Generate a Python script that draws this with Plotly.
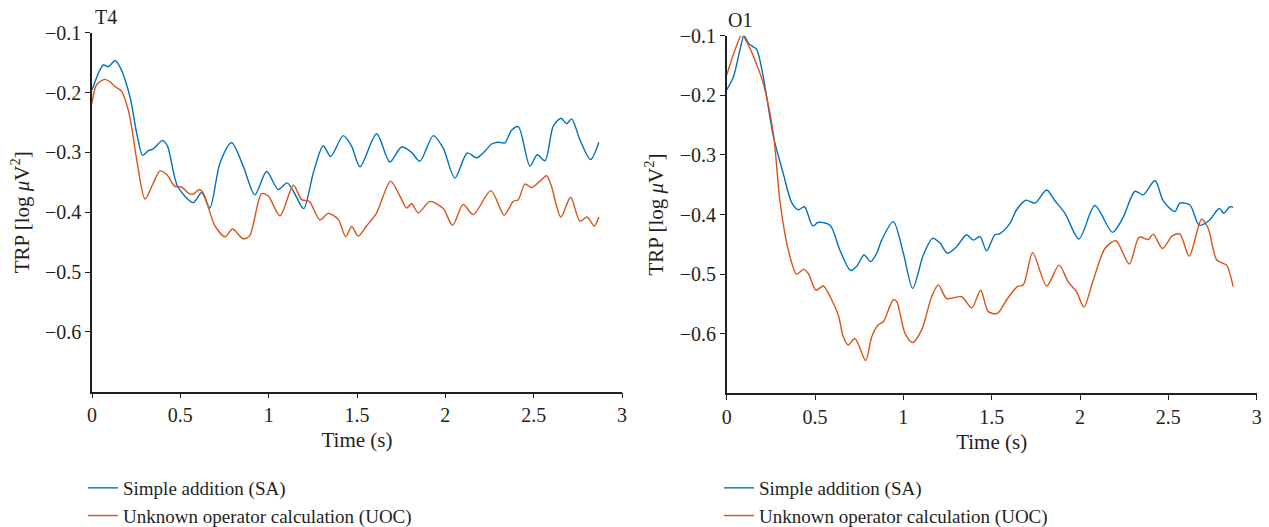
import plotly.graph_objects as go

# ---------------- data ----------------
t4_sa_t = [0, 0.064, 0.092, 0.130, 0.158, 0.215, 0.253, 0.287, 0.319, 0.347, 0.400, 0.428, 0.485, 0.573,
           0.621, 0.667, 0.724, 0.790, 0.856, 0.922, 0.988, 1.054, 1.105, 1.149, 1.198, 1.253, 1.309, 1.351,
           1.422, 1.470, 1.517, 1.611, 1.686, 1.752, 1.809, 1.856, 1.932, 1.988, 2.054, 2.124, 2.177, 2.224,
           2.262, 2.299, 2.337, 2.375, 2.413, 2.479, 2.520, 2.564, 2.611, 2.655, 2.687, 2.715, 2.762, 2.822, 2.869]
t4_sa_v = [-0.196, -0.154, -0.157, -0.147, -0.157, -0.207, -0.268, -0.305, -0.297, -0.294, -0.280, -0.290,
           -0.357, -0.384, -0.367, -0.393, -0.318, -0.284, -0.323, -0.371, -0.332, -0.362, -0.351, -0.370,
           -0.394, -0.334, -0.289, -0.307, -0.272, -0.290, -0.324, -0.269, -0.316, -0.291, -0.300, -0.315,
           -0.272, -0.293, -0.343, -0.301, -0.309, -0.298, -0.286, -0.283, -0.284, -0.263, -0.257, -0.323,
           -0.304, -0.314, -0.256, -0.243, -0.252, -0.244, -0.279, -0.312, -0.283]

t4_uoc_t = [0, 0.026, 0.073, 0.102, 0.130, 0.168, 0.205, 0.224, 0.253, 0.300, 0.343, 0.385, 0.423, 0.470,
            0.508, 0.545, 0.573, 0.607, 0.630, 0.696, 0.753, 0.796, 0.853, 0.891, 0.960, 0.998, 1.064, 1.140,
            1.187, 1.230, 1.290, 1.337, 1.394, 1.436, 1.470, 1.507, 1.554, 1.611, 1.690, 1.743, 1.781, 1.809,
            1.847, 1.913, 1.988, 2.041, 2.101, 2.158, 2.258, 2.333, 2.384, 2.413, 2.451, 2.488, 2.536, 2.573,
            2.601, 2.654, 2.709, 2.762, 2.803, 2.843, 2.869]
t4_uoc_v = [-0.218, -0.187, -0.178, -0.182, -0.190, -0.198, -0.229, -0.257, -0.312, -0.378, -0.354, -0.331,
            -0.337, -0.357, -0.358, -0.368, -0.370, -0.362, -0.368, -0.423, -0.441, -0.428, -0.444, -0.440,
            -0.369, -0.373, -0.406, -0.355, -0.379, -0.382, -0.413, -0.402, -0.412, -0.441, -0.424, -0.440,
            -0.423, -0.401, -0.348, -0.373, -0.393, -0.386, -0.401, -0.382, -0.394, -0.422, -0.387, -0.404,
            -0.364, -0.405, -0.382, -0.379, -0.353, -0.359, -0.348, -0.339, -0.357, -0.408, -0.375, -0.415,
            -0.408, -0.423, -0.408]

o1_sa_t = [0, 0.038, 0.075, 0.098, 0.122, 0.151, 0.170, 0.207, 0.264, 0.320, 0.368, 0.405, 0.440, 0.487,
           0.519, 0.585, 0.641, 0.702, 0.736, 0.777, 0.815, 0.849, 0.877, 0.943, 1.000, 1.053, 1.113, 1.166,
           1.207, 1.250, 1.302, 1.358, 1.396, 1.434, 1.471, 1.518, 1.547, 1.603, 1.641, 1.694, 1.745, 1.811,
           1.858, 1.915, 1.994, 2.084, 2.184, 2.245, 2.311, 2.358, 2.424, 2.471, 2.537, 2.565, 2.622, 2.675,
           2.731, 2.788, 2.814, 2.848, 2.867]
o1_sa_v = [-0.191, -0.169, -0.124, -0.100, -0.112, -0.119, -0.123, -0.169, -0.269, -0.331, -0.380, -0.392,
           -0.387, -0.419, -0.413, -0.418, -0.460, -0.494, -0.487, -0.468, -0.479, -0.465, -0.443, -0.412,
           -0.465, -0.524, -0.468, -0.440, -0.448, -0.465, -0.454, -0.434, -0.443, -0.437, -0.461, -0.434,
           -0.432, -0.415, -0.392, -0.376, -0.381, -0.359, -0.377, -0.398, -0.441, -0.385, -0.430, -0.404,
           -0.361, -0.367, -0.343, -0.377, -0.395, -0.381, -0.384, -0.418, -0.410, -0.390, -0.398, -0.387, -0.388]

o1_uoc_t = [0, 0.047, 0.085, 0.113, 0.160, 0.207, 0.264, 0.302, 0.349, 0.396, 0.434, 0.462, 0.505, 0.547,
            0.594, 0.632, 0.660, 0.688, 0.726, 0.787, 0.821, 0.858, 0.886, 0.943, 0.962, 1.009, 1.052, 1.103,
            1.160, 1.198, 1.245, 1.330, 1.387, 1.437, 1.481, 1.532, 1.585, 1.645, 1.679, 1.732, 1.811, 1.881,
            1.933, 1.981, 2.022, 2.075, 2.141, 2.203, 2.279, 2.335, 2.386, 2.414, 2.467, 2.522, 2.565, 2.618,
            2.688, 2.725, 2.773, 2.810, 2.830, 2.867]
o1_uoc_v = [-0.166, -0.124, -0.099, -0.110, -0.141, -0.180, -0.264, -0.379, -0.460, -0.500, -0.492, -0.499,
            -0.527, -0.520, -0.543, -0.569, -0.605, -0.619, -0.608, -0.645, -0.605, -0.585, -0.580, -0.543,
            -0.546, -0.599, -0.615, -0.594, -0.538, -0.518, -0.541, -0.538, -0.557, -0.527, -0.563, -0.566,
            -0.543, -0.521, -0.518, -0.464, -0.520, -0.485, -0.513, -0.530, -0.555, -0.510, -0.457, -0.444,
            -0.483, -0.438, -0.442, -0.433, -0.457, -0.436, -0.433, -0.470, -0.408, -0.423, -0.476, -0.482,
            -0.485, -0.521]

series_names = ["Simple addition (SA)", "Unknown operator calculation (UOC)"]
panel_titles = ["T4", "O1"]
y_ticks = [-0.6, -0.5, -0.4, -0.3, -0.2, -0.1]
x_ticks = [0, 0.5, 1, 1.5, 2, 2.5, 3]

# ---------------- styling ----------------
FONT = "Liberation Serif"
TXT = "#231f20"
BLUE = "#0072BD"
RED = "#D95319"
W, H = 1269, 527

fig = go.Figure()

panels = [
    dict(sa=(t4_sa_t, t4_sa_v), uoc=(t4_uoc_t, t4_uoc_v), xa="x", ya="y", legend="legend"),
    dict(sa=(o1_sa_t, o1_sa_v), uoc=(o1_uoc_t, o1_uoc_v), xa="x2", ya="y2", legend="legend2"),
]
for p in panels:
    for (tt, vv), name, col in [(p["sa"], series_names[0], BLUE), (p["uoc"], series_names[1], RED)]:
        fig.add_trace(go.Scatter(x=tt, y=vv, mode="lines", name=name,
                                 line=dict(color=col, width=1.4, shape="spline", smoothing=0.8),
                                 xaxis=p["xa"], yaxis=p["ya"], legend=p["legend"]))

def xax(domain, anchor):
    return dict(domain=domain, anchor=anchor, range=[0, 3], tickvals=x_ticks,
                showline=True, linecolor=TXT, linewidth=1.5, ticks="outside", ticklen=5,
                tickcolor=TXT, tickwidth=1.2, showgrid=False, zeroline=False, automargin=False,
                tickfont=dict(family=FONT, size=20, color=TXT),
                title=dict(text="Time (s)", font=dict(family=FONT, size=21, color=TXT), standoff=7))

def yax(domain, anchor):
    return dict(domain=domain, anchor=anchor, range=[-0.7, -0.1], tickvals=y_ticks,
                showline=True, linecolor=TXT, linewidth=1.5, ticks="outside", ticklen=5,
                tickcolor=TXT, tickwidth=1.2, showgrid=False, zeroline=False, automargin=False,
                tickfont=dict(family=FONT, size=20, color=TXT),
                title=dict(text="TRP [log <i>μ</i>V<sup>2</sup>]",
                           font=dict(family=FONT, size=21, color=TXT), standoff=10))

fig.update_layout(
    width=W, height=H,
    margin=dict(l=0, r=0, t=0, b=0, autoexpand=False),
    paper_bgcolor="white", plot_bgcolor="white",
    font=dict(family=FONT, color=TXT),
    xaxis=xax([92 / W, 622 / W], "y"),
    yaxis=yax([1 - 391.7 / H, 1 - 32.7 / H], "x"),
    xaxis2=xax([726.7 / W, 1256.7 / W], "y2"),
    yaxis2=yax([1 - 393.3 / H, 1 - 35.7 / H], "x2"),
    legend=dict(x=83 / W, y=1 - 469 / H, xanchor="left", yanchor="top",
                font=dict(family=FONT, size=19, color=TXT), bgcolor="rgba(0,0,0,0)"),
    legend2=dict(x=719 / W, y=1 - 469 / H, xanchor="left", yanchor="top",
                 font=dict(family=FONT, size=19, color=TXT), bgcolor="rgba(0,0,0,0)"),
    showlegend=True,
)

fig.add_annotation(text=panel_titles[0], x=93 / W, y=1 - 17 / H, xref="paper", yref="paper",
                   xanchor="left", yanchor="middle", showarrow=False,
                   font=dict(family=FONT, size=20, color=TXT))
fig.add_annotation(text=panel_titles[1], x=726 / W, y=1 - 20 / H, xref="paper", yref="paper",
                   xanchor="left", yanchor="middle", showarrow=False,
                   font=dict(family=FONT, size=20, color=TXT))

fig.write_html("out.html")
